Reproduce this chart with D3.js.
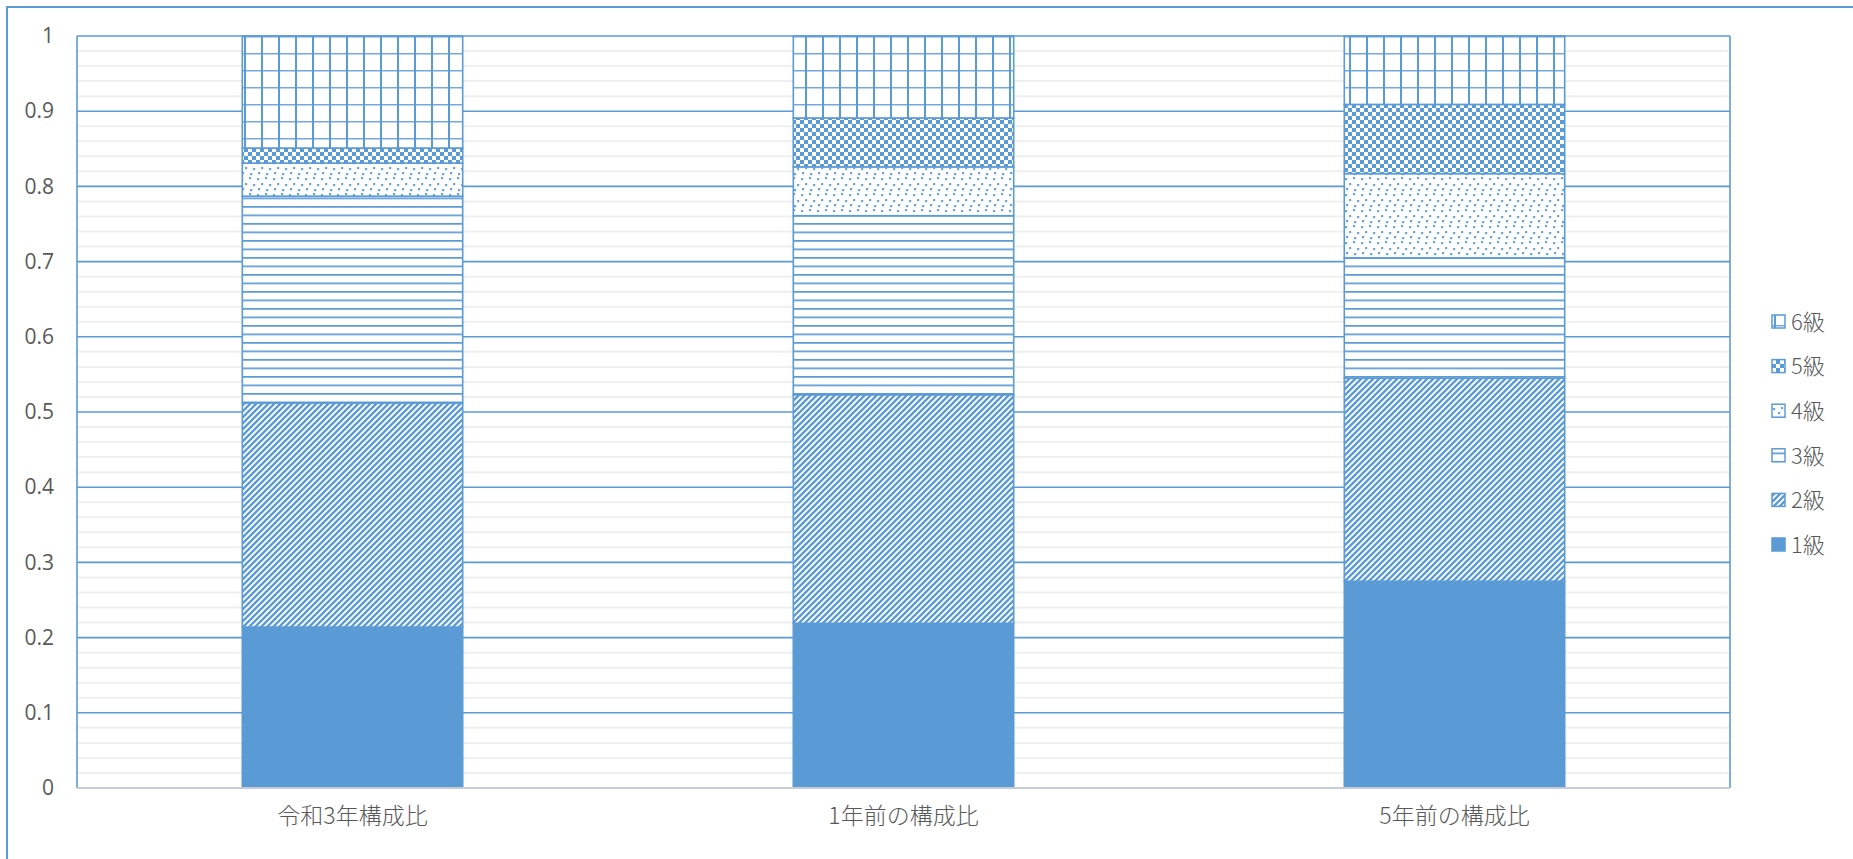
<!DOCTYPE html>
<html>
<head>
<meta charset="utf-8">
<script src="https://cdn.jsdelivr.net/npm/d3@7"></script>
<style>
  html, body { margin: 0; padding: 0; background: #fff; }
  svg { display: block; }
  text { font-family: "Noto Sans CJK JP", "Noto Sans", sans-serif; fill: #595959; }
</style>
</head>
<body>
<svg id="chart" width="1853" height="859"></svg>
<script>
const categories = ["令和3年構成比", "1年前の構成比", "5年前の構成比"];
const seriesNames = ["1級", "2級", "3級", "4級", "5級", "6級"];
const s1 = [0.214, 0.219, 0.275];
const s2 = [0.298, 0.304, 0.270];
const s3 = [0.275, 0.238, 0.160];
const s4 = [0.044, 0.065, 0.112];
const s5 = [0.020, 0.065, 0.092];
const s6 = [0.149, 0.109, 0.091];
const yTickValues = [0, 0.1, 0.2, 0.3, 0.4, 0.5, 0.6, 0.7, 0.8, 0.9, 1];
const yTickLabels = ["0", "0.1", "0.2", "0.3", "0.4", "0.5", "0.6", "0.7", "0.8", "0.9", "1"];

const seriesValues = [s1, s2, s3, s4, s5, s6];
const rows = categories.map((c, i) => {
  const r = { cat: c };
  seriesNames.forEach((s, j) => r[s] = seriesValues[j][i]);
  return r;
});

const BLUE = "#5b9bd5";
const TXT = "#636363";
const svg = d3.select("#chart");

// outer chart border
svg.append("rect").attr("x", 7).attr("y", 7).attr("width", 1900).attr("height", 900)
  .attr("fill", "none").attr("stroke", BLUE).attr("stroke-width", 2);

const pLeft = 77, pRight = 1730, pTop = 36, pBottom = 788;
const x = d3.scaleBand().domain(categories).range([pLeft, pRight]).paddingInner(0.6).paddingOuter(0.3);
const y = d3.scaleLinear().domain([0, 1]).range([pBottom, pTop]);

// patterns
const defs = svg.append("defs");
// 2級 diagonal
{
  const p = defs.append("pattern").attr("id", "p2").attr("patternUnits", "userSpaceOnUse").attr("width", 6).attr("height", 6);
  p.append("rect").attr("width", 6).attr("height", 6).attr("fill", "#fff");
  p.append("path").attr("d", "M-1,7 L7,-1 M-4,4 L4,-4 M2,10 L10,2").attr("stroke", BLUE).attr("stroke-width", 2.3);
}
// 3級 horizontal lines
{
  const p = defs.append("pattern").attr("id", "p3").attr("patternUnits", "userSpaceOnUse").attr("width", 17).attr("height", 8.5).attr("y", 2);
  p.append("rect").attr("width", 17).attr("height", 8.5).attr("fill", "#fff");
  p.append("rect").attr("y", 0).attr("width", 17).attr("height", 1.7).attr("fill", BLUE);
}
// 4級 dots
{
  const p = defs.append("pattern").attr("id", "p4").attr("patternUnits", "userSpaceOnUse").attr("width", 16).attr("height", 16);
  p.append("rect").attr("width", 16).attr("height", 16).attr("fill", "#fff");
  [[1, 2], [9, 1], [5, 7], [13, 8], [2, 12], [10, 13]].forEach(d => {
    p.append("rect").attr("x", d[0]).attr("y", d[1]).attr("width", 2.2).attr("height", 2.2).attr("fill", BLUE).attr("opacity", 0.9);
  });
}
// 5級 checker
{
  const p = defs.append("pattern").attr("id", "p5").attr("patternUnits", "userSpaceOnUse").attr("width", 8).attr("height", 8);
  p.append("rect").attr("width", 8).attr("height", 8).attr("fill", "#fff");
  p.append("rect").attr("x", 0).attr("y", 0).attr("width", 4).attr("height", 4).attr("fill", BLUE);
  p.append("rect").attr("x", 4).attr("y", 4).attr("width", 4).attr("height", 4).attr("fill", BLUE);
}
// 6級 grid
{
  const p = defs.append("pattern").attr("id", "p6").attr("patternUnits", "userSpaceOnUse").attr("width", 17).attr("height", 17).attr("x", 244).attr("y", 36);
  p.append("rect").attr("width", 17).attr("height", 17).attr("fill", "#fff");
  p.append("rect").attr("x", 0).attr("y", 0).attr("width", 17).attr("height", 1.5).attr("fill", BLUE).attr("opacity", 0.85);
  p.append("rect").attr("x", 0).attr("y", 0).attr("width", 2).attr("height", 17).attr("fill", BLUE);
}
const fills = [BLUE, "url(#p2)", "url(#p3)", "url(#p4)", "url(#p5)", "url(#p6)"];

// minor gridlines
const minor = d3.range(0, 1.0001, 0.02).filter(v => Math.round(v * 100) % 10 !== 0);
svg.append("g").selectAll("line").data(minor).join("line")
  .attr("x1", pLeft).attr("x2", pRight)
  .attr("y1", d => y(d)).attr("y2", d => y(d))
  .attr("stroke", "#efefef").attr("stroke-width", 2);

// major gridlines
svg.append("g").selectAll("line").data(yTickValues.filter(v => v > 0)).join("line")
  .attr("x1", pLeft).attr("x2", pRight)
  .attr("y1", d => y(d)).attr("y2", d => y(d))
  .attr("stroke", BLUE).attr("stroke-width", 1.6);

// plot borders left & right
svg.append("line").attr("x1", pLeft).attr("x2", pLeft).attr("y1", pTop).attr("y2", pBottom).attr("stroke", BLUE).attr("stroke-width", 1.6);
svg.append("line").attr("x1", pRight).attr("x2", pRight).attr("y1", pTop).attr("y2", pBottom).attr("stroke", BLUE).attr("stroke-width", 1.6);

// stacked bars
const stack = d3.stack().keys(seriesNames)(rows);
svg.append("g").selectAll("g").data(stack).join("g")
  .attr("fill", (d, i) => fills[i])
  .selectAll("rect").data(d => d).join("rect")
  .attr("x", d => x(d.data.cat))
  .attr("width", x.bandwidth())
  .attr("y", d => y(d[1]))
  .attr("height", d => y(d[0]) - y(d[1]))
  .attr("stroke", BLUE).attr("stroke-width", 1.6);

// bottom axis line
svg.append("line").attr("x1", pLeft).attr("x2", pRight).attr("y1", pBottom).attr("y2", pBottom)
  .attr("stroke", "#c5ccd6").attr("stroke-width", 2);

// y axis labels
const yAxis = d3.axisLeft(y).tickValues(yTickValues).tickFormat((d, i) => yTickLabels[i]).tickSize(0).tickPadding(0);
const yg = svg.append("g").attr("transform", `translate(54,0)`).call(yAxis);
yg.select(".domain").remove();
yg.selectAll("text").attr("font-size", 21).attr("fill", TXT)
  .style("font-family", '"Open Sans", "Noto Sans", sans-serif');

// x axis labels
const xAxis = d3.axisBottom(x).tickSize(0).tickPadding(0);
const xg = svg.append("g").attr("transform", `translate(0,807)`).call(xAxis);
xg.select(".domain").remove();
xg.selectAll("text").attr("font-size", 23).attr("fill", TXT).attr("dy", "0.75em")
  .style("font-family", '"Noto Sans CJK JP", sans-serif').style("font-weight", 300);

// legend
const legendOrder = seriesNames.map((s, i) => ({ s, i })).reverse();
const lg = svg.append("g");
legendOrder.forEach((d, k) => {
  const cy = 322 + k * 44.6;
  lg.append("rect").attr("x", 1772).attr("y", cy - 7).attr("width", 13).attr("height", 13)
    .attr("fill", fills[d.i]).attr("stroke", BLUE).attr("stroke-width", 1.5);
  lg.append("text").attr("x", 1791).attr("y", cy).attr("dy", "0.35em")
    .attr("font-size", 22).attr("fill", TXT).style("font-weight", 300).text(d.s);
});
</script>
</body>
</html>
